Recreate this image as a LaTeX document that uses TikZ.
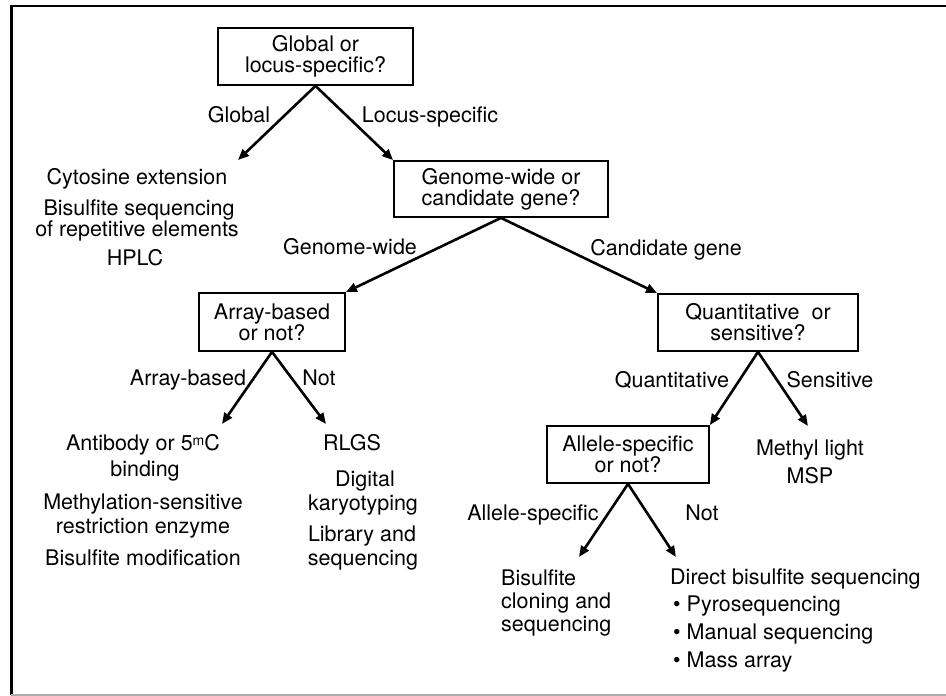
\documentclass[tikz,border=0pt]{standalone}
\usepackage{fontspec}
\setmainfont{TeX Gyre Heros}
\usetikzlibrary{arrows.meta}
\newcommand{\mytxt}{\fontsize{21.5pt}{21pt}\selectfont}
\begin{document}
\begin{tikzpicture}[x=1pt,y=-1pt,
  box/.style={draw, line width=1.8pt, align=center, inner sep=0pt, font=\mytxt},
  lbl/.style={inner sep=0pt, text height=15.4pt, text depth=0pt, font=\mytxt},
  arr/.style={line width=2.6pt, -{Triangle[length=11pt,width=9pt]}},
]
\useasboundingbox (0,0) rectangle (946,696);
% frame
\draw[line width=2.5pt] (946,6) -- (11.25,6) -- (11.25,695);
\draw[line width=1.5pt, black!32] (11,695) -- (946,695);

% decision boxes
\node[box, minimum width=195pt, minimum height=57pt] (b1) at (315.5,56.5) {Global or\\locus-specific?};
\node[box, minimum width=214pt, minimum height=56pt] (b2) at (501,189) {Genome-wide or\\candidate gene?};
\node[box, minimum width=146pt, minimum height=58pt] (b3) at (272,322) {Array-based\\or not?};
\node[box, minimum width=200pt, minimum height=57pt] (b4) at (758,322.5) {Quantitative\ \ or\\sensitive?};
\node[box, minimum width=162pt, minimum height=57pt] (b5) at (628,454.5) {Allele-specific\\or not?};

% arrow end points
\coordinate (tG) at (238,160);
\coordinate (tAB) at (222,424);
\coordinate (tN1) at (326,424);
\coordinate (tS) at (808,426);
\coordinate (tAS) at (579,557);
\coordinate (tN2) at (676,557);

% connectors
\draw[arr] (b1.south) -- (tG);
\draw[arr] (b1.south) -- (b2.north west);
\draw[arr] (b2.south) -- (b3.north east);
\draw[arr] (b2.south) -- (b4.north west);
\draw[arr] (b3.south) -- (tAB);
\draw[arr] (b3.south) -- (tN1);
\draw[arr] (b4.south) -- (b5.north east);
\draw[arr] (b4.south) -- (tS);
\draw[arr] (b5.south) -- (tAS);
\draw[arr] (b5.south) -- (tN2);

% branch labels
\node[lbl] (lGlobal) at (239,115) {Global};
\node[lbl] (lLocus) at (430,115) {Locus-specific};
\node[lbl] (lGenome) at (350,247) {Genome-wide};
\node[lbl] (lCand) at (666,248) {Candidate gene};
\node[lbl] (lArray) at (188,378) {Array-based};
\node[lbl] (lNot1) at (319,378) {Not};
\node[lbl] (lQuant) at (672,380) {Quantitative};
\node[lbl] (lSens) at (830,380) {Sensitive};
\node[lbl] (lAllele) at (533,513) {Allele-specific};
\node[lbl] (lNot2) at (702,513) {Not};

% global methods
\node[lbl] (g1) at (137,177) {Cytosine extension};
\node[lbl] (g2) at (139,208) {Bisulfite sequencing};
\node[lbl] (g3) at (137,229) {of repetitive elements};
\node[lbl] (g4) at (135,258) {HPLC};

% array-based methods
\node[lbl] (a1) at (143,443) {Antibody or 5\raisebox{5pt}{\fontsize{14pt}{14pt}\selectfont m}C};
\node[lbl] (a2) at (145,469) {binding};
\node[lbl] (a3) at (143,502) {Methylation-sensitive};
\node[lbl] (a4) at (143,526) {restriction enzyme};
\node[lbl] (a5) at (143,558) {Bisulfite modification};

% not array-based
\node[lbl] (n1) at (352,443) {RLGS};
\node[lbl] (n2) at (365,479) {Digital};
\node[lbl] (n3) at (363,503) {karyotyping};
\node[lbl] (n4) at (362,534) {Library and};
\node[lbl] (n5) at (363,558) {sequencing};

% sensitive
\node[lbl] (s1) at (810,448) {Methyl light};
\node[lbl] (s2) at (810,476) {MSP};

% allele-specific
\node[lbl, anchor=west] (c1) at (501,578) {Bisulfite};
\node[lbl, anchor=west] (c2) at (501,601) {cloning and};
\node[lbl, anchor=west] (c3) at (501,624) {sequencing};

% direct
\node[lbl, anchor=west] (d1) at (670,577) {Direct bisulfite sequencing};
\node[lbl, anchor=west] (d2) at (673,604) {• Pyrosequencing};
\node[lbl, anchor=west] (d3) at (673,632) {• Manual sequencing};
\node[lbl, anchor=west] (d4) at (673,660) {• Mass array};
\end{tikzpicture}
\end{document}
